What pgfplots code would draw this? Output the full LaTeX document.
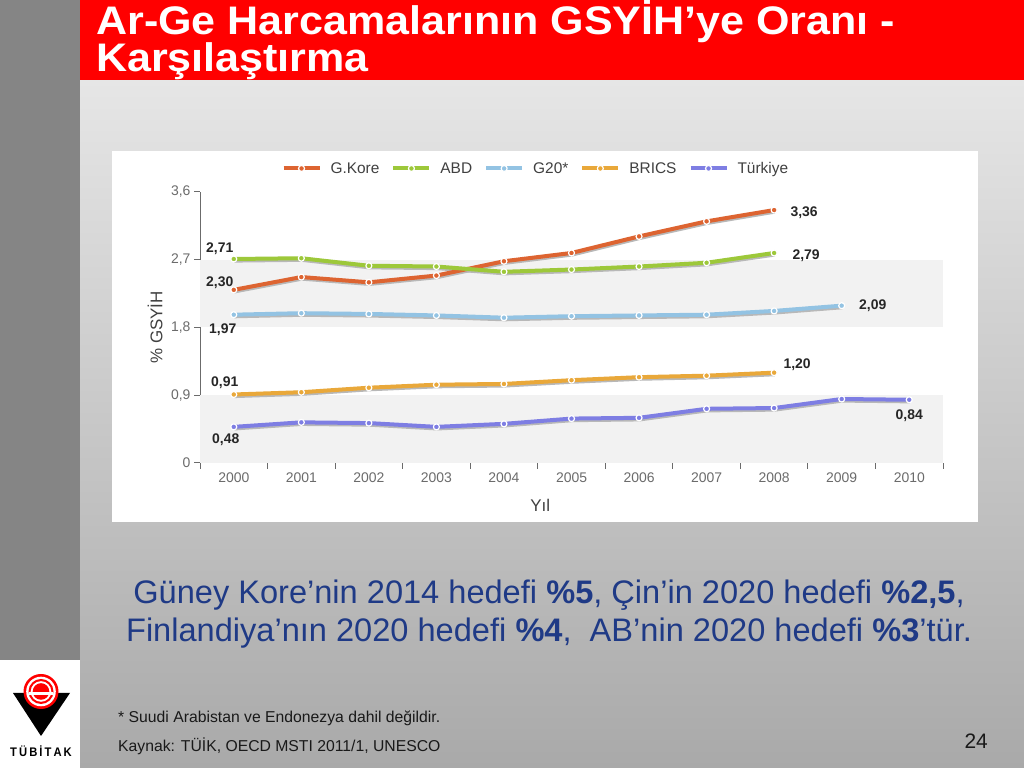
\documentclass[border=0pt]{standalone}
\usepackage{pgfplots}
\pgfplotsset{compat=1.18}
\usepackage{fontspec}
\setmainfont{Liberation Sans}
\newfontfamily\titlefont[FakeStretch=1.08]{Liberation Sans}
\newfontfamily\logofont[FakeStretch=0.9]{Liberation Sans}

\definecolor{kore}{HTML}{DD6431}
\definecolor{abd}{HTML}{9DC83A}
\definecolor{gyirmi}{HTML}{93C3E3}
\definecolor{brics}{HTML}{E9A83A}
\definecolor{turkiye}{HTML}{7E7EE3}
\definecolor{tickgray}{HTML}{6B6B6B}
\definecolor{band}{HTML}{F2F2F2}
\definecolor{navy}{HTML}{1F3A86}
\definecolor{leftstrip}{HTML}{858585}
\definecolor{gtop}{HTML}{E6E6E6}
\definecolor{gbot}{HTML}{A9A9A9}
\definecolor{slidered}{HTML}{FF0000}

\pgfplotsset{
  serie/.style={line width=4bp, line join=round, mark=*, mark size=3bp,
    mark options={fill=#1, draw=white, line width=1.2bp}, color=#1},
  shadow/.style={forget plot, line width=4bp, line join=round, draw=black!28,
    yshift=-1.6bp, xshift=0.6bp, mark=none},
}
\tikzset{lab/.style={font=\bfseries\fontsize{14}{16}\selectfont, text=black!85, inner sep=0pt}}

\begin{document}
\begin{tikzpicture}
\path[use as bounding box] (0,0) rectangle (1024bp,768bp);
\begin{scope}[x=1bp,y=-1bp,shift={(0,768bp)}]
  \fill[leftstrip] (0,0) rectangle (80,660);
  \shade[top color=gtop, bottom color=gbot] (80,80) rectangle (1024,768);
  \fill[slidered] (80,0) rectangle (1024,80);
  \fill[white] (0,660) rectangle (80,768);
  \fill[white] (112,151) rectangle (978,522);
  \node[anchor=base west, inner sep=0pt, text=white,
        font=\titlefont\bfseries\fontsize{40}{40}\selectfont] at (96,35)
        {Ar-Ge Harcamalarının GSYİH’ye Oranı -};
  \node[anchor=base west, inner sep=0pt, text=white,
        font=\titlefont\bfseries\fontsize{40}{40}\selectfont] at (96,72)
        {Karşılaştırma};
\end{scope}

\begin{axis}[
  at={(200bp,305bp)}, anchor=south west,
  scale only axis, width=743bp, height=271bp,
  xmin=1999.5, xmax=2010.5, ymin=0, ymax=3.6,
  axis x line*=bottom, axis y line*=left,
  axis line style={draw=tickgray, line width=1bp},
  xtick={1999.5,2000.5,2001.5,2002.5,2003.5,2004.5,2005.5,2006.5,2007.5,2008.5,2009.5,2010.5},
  xticklabels={2000,2001,2002,2003,2004,2005,2006,2007,2008,2009,2010,{}},
  xticklabel style={xshift=33.8bp},
  ytick={0,0.9,1.8,2.7,3.6},
  yticklabels={0,{0,9},{1,8},{2,7},{3,6}},
  tick align=outside, major tick length=6bp,
  tick style={draw=tickgray, line width=1bp},
  ticklabel style={font=\fontsize{14}{16}\selectfont, text=tickgray},
  xlabel={Yıl}, ylabel={\% GSYİH},
  label style={font=\fontsize{17}{19}\selectfont, text=black!75},
  xlabel style={at={(axis description cs:0.458,0)}, anchor=center, yshift=-42bp},
  ylabel style={at={(axis description cs:0,0.5)}, anchor=center, yshift=45bp},
  clip=false,
  legend columns=5,
  legend style={at={(0.452,1)}, anchor=south, yshift=13bp, draw=none, fill=none,
    font=\fontsize{15.5}{17}\selectfont, text=black!75,
    /tikz/every odd column/.append style={column sep=7bp},
    /tikz/every even column/.append style={column sep=10bp}},
  legend image code/.code={\draw[mark repeat=2,mark phase=2,#1]
    plot coordinates {(0bp,0bp) (18bp,0bp) (36bp,0bp)};},
]
% background bands
\addplot[forget plot, fill=band, draw=none] coordinates
  {(1999.5,1.8) (2010.5,1.8) (2010.5,2.7) (1999.5,2.7)} -- cycle;
\addplot[forget plot, fill=band, draw=none] coordinates
  {(1999.5,0) (2010.5,0) (2010.5,0.9) (1999.5,0.9)} -- cycle;

% shadows
\addplot[shadow] coordinates {(2000,2.30) (2001,2.47) (2002,2.40) (2003,2.49) (2004,2.68) (2005,2.79) (2006,3.01) (2007,3.21) (2008,3.36)};
\addplot[shadow] coordinates {(2000,2.71) (2001,2.72) (2002,2.62) (2003,2.61) (2004,2.54) (2005,2.57) (2006,2.61) (2007,2.66) (2008,2.79)};
\addplot[shadow] coordinates {(2000,1.97) (2001,1.99) (2002,1.98) (2003,1.96) (2004,1.93) (2005,1.95) (2006,1.96) (2007,1.97) (2008,2.02) (2009,2.09)};
\addplot[shadow] coordinates {(2000,0.91) (2001,0.94) (2002,1.00) (2003,1.04) (2004,1.05) (2005,1.10) (2006,1.14) (2007,1.16) (2008,1.20)};
\addplot[shadow] coordinates {(2000,0.48) (2001,0.54) (2002,0.53) (2003,0.48) (2004,0.52) (2005,0.59) (2006,0.60) (2007,0.72) (2008,0.73) (2009,0.85) (2010,0.84)};

% series
\addplot[serie=kore] coordinates {(2000,2.30) (2001,2.47) (2002,2.40) (2003,2.49) (2004,2.68) (2005,2.79) (2006,3.01) (2007,3.21) (2008,3.36)};
\addplot[serie=abd] coordinates {(2000,2.71) (2001,2.72) (2002,2.62) (2003,2.61) (2004,2.54) (2005,2.57) (2006,2.61) (2007,2.66) (2008,2.79)};
\addplot[serie=gyirmi] coordinates {(2000,1.97) (2001,1.99) (2002,1.98) (2003,1.96) (2004,1.93) (2005,1.95) (2006,1.96) (2007,1.97) (2008,2.02) (2009,2.09)};
\addplot[serie=brics] coordinates {(2000,0.91) (2001,0.94) (2002,1.00) (2003,1.04) (2004,1.05) (2005,1.10) (2006,1.14) (2007,1.16) (2008,1.20)};
\addplot[serie=turkiye] coordinates {(2000,0.48) (2001,0.54) (2002,0.53) (2003,0.48) (2004,0.52) (2005,0.59) (2006,0.60) (2007,0.72) (2008,0.73) (2009,0.85) (2010,0.84)};
\legend{G.Kore,ABD,G20*,BRICS,Türkiye}

% value labels
\node[lab, xshift=-14bp, yshift=10bp] at (axis cs:2000,2.71) {2,71};
\node[lab, xshift=-14bp, yshift=7bp] at (axis cs:2000,2.30) {2,30};
\node[lab, xshift=-11bp, yshift=-15bp] at (axis cs:2000,1.97) {1,97};
\node[lab, xshift=-9bp, yshift=12bp] at (axis cs:2000,0.91) {0,91};
\node[lab, xshift=-8bp, yshift=-13bp] at (axis cs:2000,0.48) {0,48};
\node[lab, xshift=30bp, yshift=-3bp] at (axis cs:2008,3.36) {3,36};
\node[lab, xshift=32bp, yshift=-3bp] at (axis cs:2008,2.79) {2,79};
\node[lab, xshift=31bp, yshift=0bp] at (axis cs:2009,2.09) {2,09};
\node[lab, xshift=23bp, yshift=8bp] at (axis cs:2008,1.20) {1,20};
\node[lab, xshift=0bp, yshift=-16bp] at (axis cs:2010,0.84) {0,84};
\end{axis}

\begin{scope}[x=1bp,y=-1bp,shift={(0,768bp)}]
  \node[align=center, text=navy, inner sep=0pt,
        font=\fontsize{32.7}{38}\selectfont] at (549,614)
        {Güney Kore’nin 2014 hedefi \textbf{\%5}, Çin’in 2020 hedefi \textbf{\%2,5},\\
         Finlandiya’nın 2020 hedefi \textbf{\%4},\ \ AB’nin 2020 hedefi \textbf{\%3}’tür.};
  \node[anchor=base west, inner sep=0pt, font=\fontsize{15.8}{17}\selectfont, text=black!90]
        at (118,723) {* Suudi Arabistan ve Endonezya dahil değildir.};
  \node[anchor=base west, inner sep=0pt, font=\fontsize{15.8}{17}\selectfont, text=black!90]
        at (118,752) {Kaynak: TÜİK, OECD MSTI 2011/1, UNESCO};
  \node[anchor=base east, inner sep=0pt, font=\fontsize{21}{22}\selectfont, text=black!90]
        at (988,749) {24};
  % logo
  \fill[black] (13,693) -- (70,693) -- (41,736) -- cycle;
  \fill[slidered] (41,691.5) circle (17.5);
  \fill[white] (41,691.5) circle (14.8);
  \fill[slidered] (41,691.5) circle (12.5);
  \fill[white] (41,691.5) circle (10.3);
  \fill[slidered] (41,691.5) circle (8.3);
  \fill[white] (29,692.5) rectangle (53,695);
  \node[anchor=base, inner sep=0pt, font=\logofont\bfseries\fontsize{12.5}{12}\selectfont]
        at (41,757) {T\,Ü\,B\,İ\,T\,A\,K};
\end{scope}
\end{tikzpicture}
\end{document}
